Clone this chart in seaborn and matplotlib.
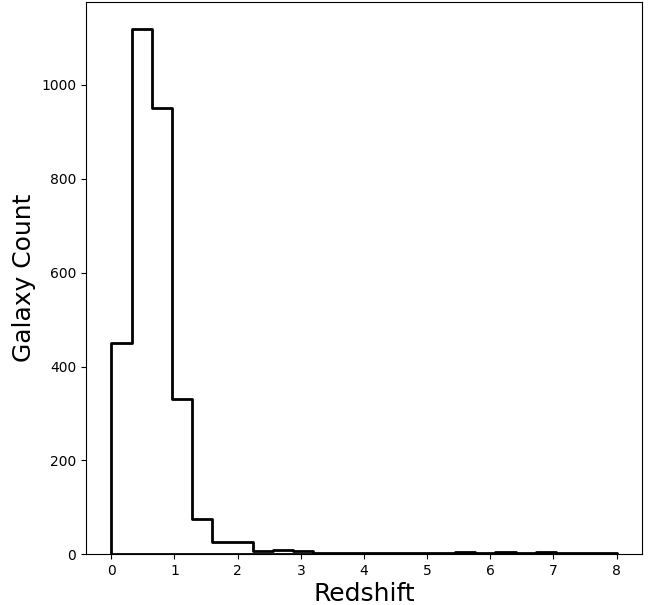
import numpy as np
import pandas as pd
import matplotlib
matplotlib.use("Agg")
import matplotlib.pyplot as plt
import seaborn as sns

# Histogram of galaxy redshifts: 25 bins from 0 to 8
bin_edges = [round(0.32 * i, 2) for i in range(26)]
counts = [450, 1120, 952, 330, 75, 26, 26, 6, 9, 7,
          2, 2, 2, 2, 2, 2, 2, 4, 2, 4,
          2, 4, 2, 2, 2]
x_ticks = [0, 1, 2, 3, 4, 5, 6, 7, 8]
y_ticks = [0, 200, 400, 600, 800, 1000]

centers = [(a + b) / 2 for a, b in zip(bin_edges[:-1], bin_edges[1:])]
df = pd.DataFrame({"redshift": centers, "count": counts})

fig = plt.figure(figsize=(6.57, 6.05), dpi=100)
ax = fig.add_axes([0.131, 0.084, 0.846, 0.912])

sns.histplot(data=df, x="redshift", weights="count", bins=bin_edges,
             element="step", fill=True, color="black", facecolor="none",
             edgecolor="black", linewidth=2, ax=ax)

ax.set_xticks(x_ticks)
ax.set_yticks(y_ticks)
ax.set_xlabel("Redshift", fontsize=18, labelpad=3)
ax.set_ylabel("Galaxy Count", fontsize=18)

fig.savefig("out.png", dpi=100)
